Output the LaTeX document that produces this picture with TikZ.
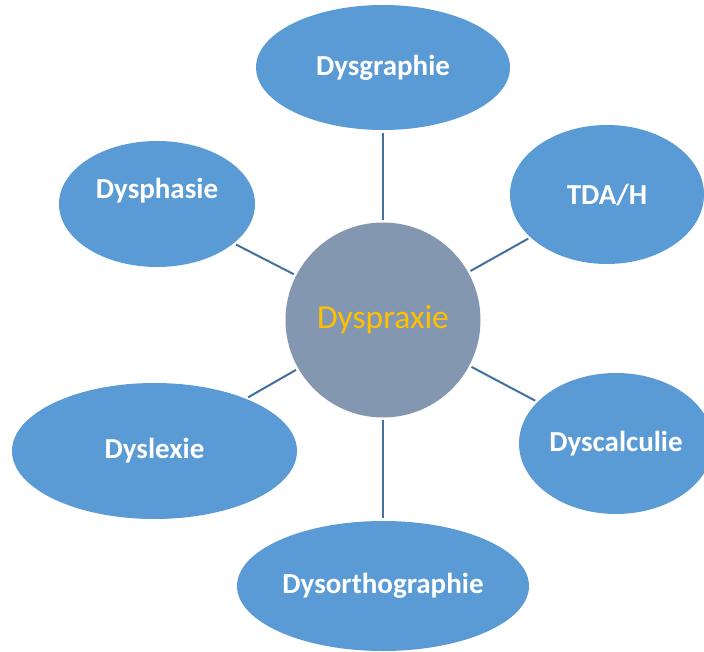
\documentclass[tikz,border=0pt]{standalone}
\usepackage{fontspec}
\setmainfont{Carlito}
\usepackage{xcolor}
\usepackage{tikz}
\usetikzlibrary{shapes.geometric}
\definecolor{leaf}{HTML}{5B9BD5}
\definecolor{hub}{HTML}{8497B0}
\definecolor{hubtext}{HTML}{FFC000}
\definecolor{link}{HTML}{41719C}
\tikzset{
  lab/.style={text=white, font=\fontsize{29}{34}\selectfont\bfseries},
  leafShape/.style={ellipse, fill=leaf, draw=none, inner sep=0pt, lab},
  hubShape/.style={circle, fill=hub, draw=none, inner sep=0pt, minimum size=195pt,
    text=hubtext, font=\fontsize{33.5}{40}\selectfont},
  linkLine/.style={draw=link, line width=2pt, shorten <=2.5pt, shorten >=2.5pt}
}
\begin{document}
\begin{tikzpicture}[x=1pt,y=-1pt]
\useasboundingbox (0,0) rectangle (704,652);
% centre
\node[hubShape] (dyspraxie) at (383,320) {Dyspraxie};

% outer ellipses
\node[leafShape, minimum width=254pt, minimum height=125pt] (dysgraphie) at (383,67.5) {Dysgraphie};
\node[leafShape, minimum width=194pt, minimum height=139pt] (tdah) at (607,194.5) {TDA/H};
\node[leafShape, minimum width=196pt, minimum height=126pt,
  label={[lab, yshift=13pt]center:Dysphasie}] (dysphasie) at (157,204) {};
\node[leafShape, minimum width=285pt, minimum height=136pt] (dyslexie) at (154.5,451) {Dyslexie};
\node[leafShape, minimum width=194pt, minimum height=141pt] (dyscalculie) at (616,443.5) {Dyscalculie};
\node[leafShape, minimum width=292pt, minimum height=130pt] (dysortho) at (383,586) {Dysorthographie};

% links
\foreach \n in {dysgraphie,tdah,dysphasie,dyslexie,dyscalculie,dysortho}
  \draw[linkLine] (dyspraxie) -- (\n);
\end{tikzpicture}
\end{document}
